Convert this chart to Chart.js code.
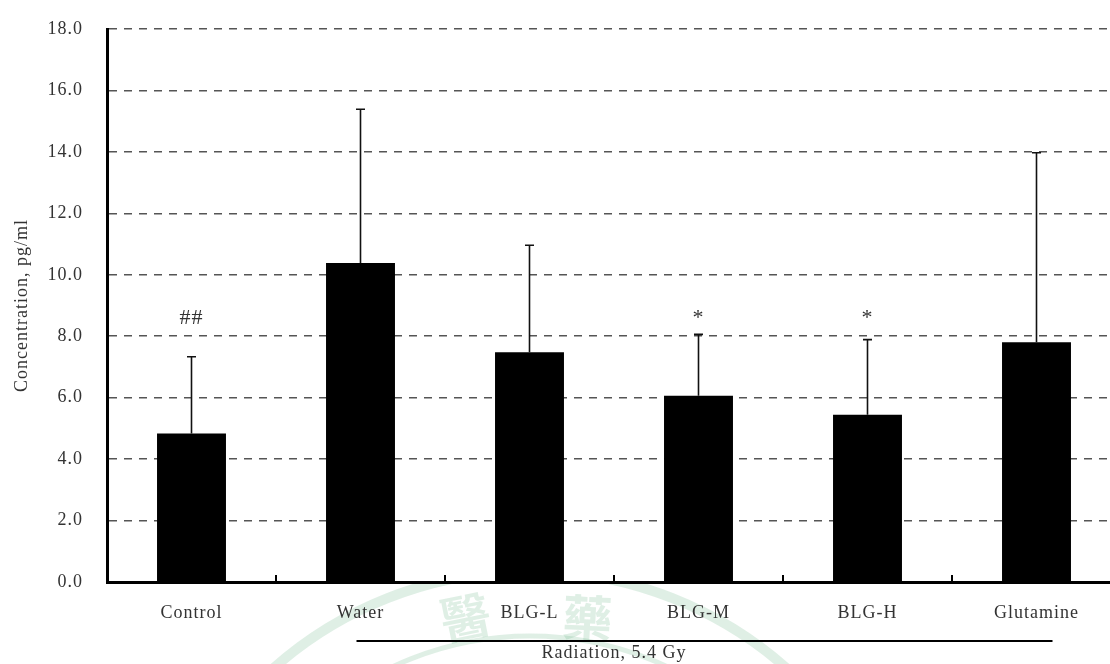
<!DOCTYPE html>
<html>
<head>
<meta charset="utf-8">
<script src="https://cdn.jsdelivr.net/npm/chart.js@4.4.1/dist/chart.umd.min.js"></script>
<style>
  html, body { margin: 0; padding: 0; background: #fff; }
  #wrap { width: 1110px; height: 664px; overflow: hidden; position: relative; background: #fff; }
  canvas { display: block; }
</style>
</head>
<body>
<div id="wrap"><canvas id="chart" width="1125" height="664"></canvas></div>
<script>
// Group names and measured concentrations (mean and upper SD)
const categories = ['Control', 'Water', 'BLG-L', 'BLG-M', 'BLG-H', 'Glutamine'];
const meanValues = [4.83, 10.38, 7.48, 6.06, 5.44, 7.80];
const sdValues   = [2.50, 5.01, 3.48, 2.00, 2.45, 6.17];
// Significance markers drawn above each group
const markers = ['##', '', '', '*', '*', ''];
const markerLevel = 8.4;
// Value axis ticks
const yTicks = [0, 2, 4, 6, 8, 10, 12, 14, 16, 18];
const yTitle = 'Concentration, pg/ml';
// Bracket under the irradiated groups
const groupTitle = 'Radiation, 5.4 Gy';
const groupFirst = 1;
const groupLast = 5;
// Characters of the faint seal at the foot of the page
const sealChars = ['醫', '藥'];

const FONT = '"Liberation Serif", "Times New Roman", serif';
const TEXT = '#333';

const letterSpacing = {
  id: 'letterSpacing',
  beforeLayout(chart) { chart.ctx.letterSpacing = '1px'; },
  beforeDraw(chart) { chart.ctx.letterSpacing = '1px'; }
};

const seal = {
  id: 'seal',
  beforeDraw(chart) {
    const { ctx, chartArea } = chart;
    ctx.save();
    ctx.beginPath();
    ctx.rect(0, chartArea.bottom + 2, chart.width, chart.height);
    ctx.clip();
    ctx.strokeStyle = 'rgba(40,150,80,0.15)';
    ctx.lineWidth = 10;
    ctx.beginPath();
    ctx.arc(530, 958, 387, 0, Math.PI * 2);
    ctx.stroke();
    ctx.lineWidth = 5;
    ctx.beginPath();
    ctx.arc(530, 958, 322, 0, Math.PI * 2);
    ctx.stroke();
    ctx.fillStyle = 'rgba(40,150,80,0.15)';
    ctx.font = '700 50px "Noto Sans CJK TC"';
    ctx.textAlign = 'center';
    ctx.textBaseline = 'middle';
    const spots = [[466, 617, -0.2], [588, 618, 0.05]];
    sealChars.forEach((ch, i) => {
      const [x, y, r] = spots[i];
      ctx.save();
      ctx.translate(x, y);
      ctx.rotate(r);
      ctx.fillText(ch, 0, 0);
      ctx.restore();
    });
    ctx.restore();
  }
};

const errorBars = {
  id: 'errorBars',
  afterDatasetsDraw(chart) {
    const { ctx } = chart;
    const y = chart.scales.y;
    const meta = chart.getDatasetMeta(0);
    ctx.save();
    ctx.strokeStyle = '#111';
    ctx.lineWidth = 1.6;
    meta.data.forEach((bar, i) => {
      const top = y.getPixelForValue(meanValues[i] + sdValues[i]);
      ctx.beginPath();
      ctx.moveTo(bar.x, bar.y);
      ctx.lineTo(bar.x, top);
      ctx.moveTo(bar.x - 4.5, top);
      ctx.lineTo(bar.x + 4.5, top);
      ctx.stroke();
    });
    ctx.fillStyle = TEXT;
    ctx.font = '22px ' + FONT;
    ctx.textAlign = 'center';
    ctx.textBaseline = 'alphabetic';
    const my = y.getPixelForValue(markerLevel);
    meta.data.forEach((bar, i) => {
      if (markers[i]) ctx.fillText(markers[i], bar.x, my);
    });
    ctx.restore();
  }
};

const axisDecor = {
  id: 'axisDecor',
  afterDraw(chart) {
    const { ctx, chartArea } = chart;
    const x = chart.scales.x;
    const b = chartArea.bottom;
    ctx.save();
    ctx.fillStyle = '#000';
    for (let i = 1; i < categories.length; i++) {
      const px = (x.getPixelForValue(i - 1) + x.getPixelForValue(i)) / 2;
      ctx.fillRect(Math.round(px) - 1, b - 7, 2, 7);
    }
    const x1 = x.getPixelForValue(groupFirst) - 4;
    const x2 = x.getPixelForValue(groupLast) + 16;
    ctx.fillRect(x1, b + 58, x2 - x1, 2);
    ctx.restore();
  }
};

new Chart(document.getElementById('chart'), {
  type: 'bar',
  data: {
    labels: categories,
    datasets: [{
      data: meanValues,
      backgroundColor: '#000',
      borderWidth: 0,
      barPercentage: 0.408,
      categoryPercentage: 1
    }]
  },
  options: {
    responsive: false,
    animation: false,
    devicePixelRatio: 1,
    layout: { padding: { left: 0, right: 4, top: 29, bottom: 0 } },
    plugins: { legend: { display: false }, tooltip: { enabled: false } },
    scales: {
      x: {
        grid: { display: false },
        border: { display: true, color: '#000', width: 3 },
        ticks: { color: TEXT, font: { family: FONT, size: 18 }, padding: 12, maxRotation: 0, autoSkip: false },
        title: { display: true, text: groupTitle, color: TEXT, font: { family: FONT, size: 18 }, padding: { top: 0, bottom: 0 } },
        afterFit(scale) { scale.height = 82; }
      },
      y: {
        min: 0,
        max: 18,
        afterBuildTicks(scale) { scale.ticks = yTicks.map(v => ({ value: v })); },
        ticks: { color: TEXT, font: { family: FONT, size: 18 }, padding: 0, callback: v => Number(v).toFixed(1) },
        grid: { color: '#555', lineWidth: 1.5, drawTicks: true, tickLength: 24, tickColor: 'rgba(0,0,0,0)' },
        border: { display: true, color: '#000', width: 3, dash: [8, 7] },
        title: { display: true, text: yTitle, color: TEXT, font: { family: FONT, size: 18 }, padding: { top: 11, bottom: 0 } },
        afterFit(scale) { scale.width = 107; }
      }
    }
  },
  plugins: [letterSpacing, seal, errorBars, axisDecor]
});
</script>
</body>
</html>
